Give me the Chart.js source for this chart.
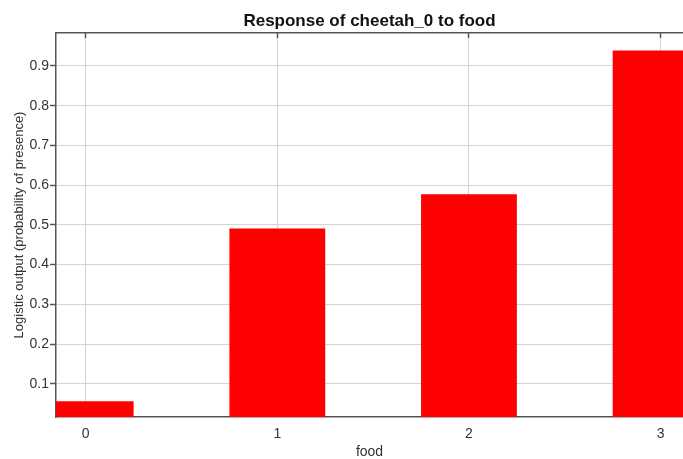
<!DOCTYPE html>
<html>
<head>
<meta charset="utf-8">
<script src="https://cdn.jsdelivr.net/npm/chart.js@4"></script>
<style>
  html, body { margin: 0; padding: 0; background: #ffffff; }
  #wrap { width: 683px; height: 459px; position: relative; }
</style>
</head>
<body>
<div id="wrap"><canvas id="c"></canvas></div>
<script>
// Response of cheetah_0 to the "food" variable (one bar per food level)
const foodLevels = [0, 1, 2, 3];
const presence = [0.056, 0.491, 0.577, 0.939];
const xTicks = [0, 1, 2, 3];
const yTicks = [0.1, 0.2, 0.3, 0.4, 0.5, 0.6, 0.7, 0.8, 0.9];

const xRange = { min: -0.155, max: 3.117 };
const yRange = { min: 0.0165, max: 0.983 };

const axisColor = '#555555';
const gridColor = '#d4d4d4';
const textColor = '#333333';
const baseFont = 'Arial, "Liberation Sans", sans-serif';

// keep the title centred over the plot rather than the whole canvas
const titleOverPlot = {
  id: 'titleOverPlot',
  afterLayout(chart) {
    const t = chart.titleBlock;
    if (t) {
      t.left = chart.chartArea.left;
      t.right = chart.chartArea.right;
      t.width = t.right - t.left;
    }
  }
};

new Chart(document.getElementById('c'), {
  type: 'bar',
  data: {
    datasets: [{
      data: foodLevels.map((x, i) => ({ x: x, y: presence[i] })),
      backgroundColor: '#ff0000',
      borderWidth: 0,
      categoryPercentage: 1,
      barPercentage: 0.5
    }]
  },
  plugins: [titleOverPlot],
  options: {
    responsive: true,
    maintainAspectRatio: false,
    animation: false,
    layout: { padding: 0 },
    plugins: {
      legend: { display: false },
      tooltip: { enabled: false },
      title: {
        display: true,
        text: 'Response of cheetah_0 to food',
        color: '#111111',
        font: { family: baseFont, size: 17, weight: 'bold', lineHeight: 1.2 },
        padding: { top: 11.3, bottom: 1.3 }
      }
    },
    scales: {
      x: {
        type: 'linear',
        position: 'bottom',
        offset: false,
        min: xRange.min,
        max: xRange.max,
        afterBuildTicks: s => { s.ticks = xTicks.map(v => ({ value: v })); },
        afterFit: s => { s.height = 42; },
        ticks: {
          color: textColor,
          font: { family: baseFont, size: 14 },
          padding: 9,
          maxRotation: 0,
          callback: v => String(v)
        },
        grid: { offset: false, color: gridColor, lineWidth: 1, drawTicks: false },
        border: { display: true, color: axisColor, width: 1.5 },
        title: {
          display: true,
          text: 'food',
          color: textColor,
          font: { family: baseFont, size: 14, lineHeight: 1.2 },
          padding: { top: 0, bottom: -2 }
        }
      },
      xTop: {
        type: 'linear',
        position: 'top',
        offset: false,
        min: xRange.min,
        max: xRange.max,
        afterBuildTicks: s => { s.ticks = xTicks.map(v => ({ value: v })); },
        afterFit: s => { s.height = 0; },
        ticks: { display: false },
        grid: {
          offset: false,
          drawOnChartArea: false,
          drawTicks: true,
          tickLength: -5,
          tickColor: axisColor,
          tickWidth: 1.5
        },
        border: { display: true, color: axisColor, width: 1.5 }
      },
      y: {
        type: 'linear',
        position: 'left',
        min: yRange.min,
        max: yRange.max,
        afterBuildTicks: s => { s.ticks = yTicks.map(v => ({ value: v })); },
        afterFit: s => { s.width = 56; },
        ticks: {
          color: textColor,
          font: { family: baseFont, size: 14 },
          padding: 1,
          callback: v => v.toFixed(1)
        },
        grid: {
          color: gridColor,
          lineWidth: 1,
          drawTicks: true,
          tickLength: 6,
          tickColor: axisColor,
          tickWidth: 1.5
        },
        border: { display: true, color: axisColor, width: 1.5 },
        title: {
          display: true,
          text: 'Logistic output (probability of presence)',
          color: textColor,
          font: { family: baseFont, size: 13, lineHeight: 1.2 },
          padding: { top: 12, bottom: 0 }
        }
      }
    }
  }
});
</script>
</body>
</html>
